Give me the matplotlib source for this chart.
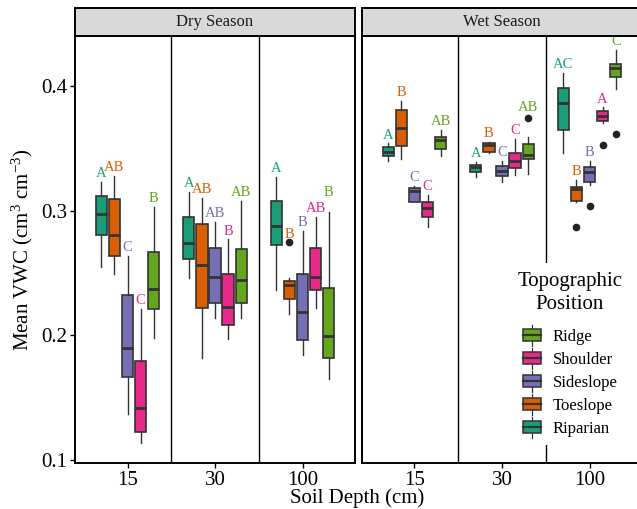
import matplotlib
matplotlib.use('Agg')
import matplotlib.pyplot as plt
from matplotlib.patches import Rectangle, Patch
from matplotlib.lines import Line2D
from matplotlib.legend_handler import HandlerBase

plt.rcParams['font.family'] = ['Liberation Serif', 'DejaVu Serif']
plt.rcParams['mathtext.fontset'] = 'custom'
plt.rcParams['mathtext.rm'] = 'Liberation Serif'
plt.rcParams['mathtext.it'] = 'Liberation Serif:italic'
plt.rcParams['mathtext.bf'] = 'Liberation Serif:bold'

# ---------------- data ----------------
seasons = ['Dry Season', 'Wet Season']
depths = ['15', '30', '100']
groups = ['Riparian', 'Toeslope', 'Sideslope', 'Shoulder', 'Ridge']
colors = ['#1B9E77', '#D95F02', '#7570B3', '#E7298A', '#66A61E']

# each row: [lower whisker, Q1, median, Q3, upper whisker] for Riparian..Ridge
dry_15 = [[0.2551, 0.2802, 0.2973, 0.3118, 0.3233],
          [0.2492, 0.2639, 0.2802, 0.3094, 0.3278],
          [0.1373, 0.1668, 0.1898, 0.2326, 0.2636],
          [0.1133, 0.1226, 0.1416, 0.1796, 0.2211],
          [0.1975, 0.2208, 0.2369, 0.2671, 0.3029]]
dry_30 = [[0.2457, 0.2612, 0.2738, 0.2952, 0.3150],
          [0.1820, 0.2216, 0.2561, 0.2893, 0.3104],
          [0.2141, 0.2259, 0.2470, 0.2703, 0.2912],
          [0.1973, 0.2082, 0.2230, 0.2489, 0.2770],
          [0.2141, 0.2256, 0.2446, 0.2690, 0.3078]]
dry_100 = [[0.2363, 0.2722, 0.2877, 0.3078, 0.3273],
           [0.2171, 0.2288, 0.2401, 0.2438, 0.2462],
           [0.1839, 0.1965, 0.2189, 0.2494, 0.2840],
           [0.2219, 0.2361, 0.2468, 0.2698, 0.2952],
           [0.1652, 0.1820, 0.1997, 0.2377, 0.2992]]
wet_15 = [[0.3401, 0.3439, 0.3474, 0.3508, 0.3540],
          [0.3417, 0.3519, 0.3661, 0.3808, 0.3883],
          [0.3072, 0.3072, 0.3160, 0.3182, 0.3198],
          [0.2872, 0.2946, 0.3019, 0.3072, 0.3126],
          [0.3439, 0.3492, 0.3567, 0.3594, 0.3647]]
wet_30 = [[0.3268, 0.3308, 0.3353, 0.3369, 0.3393],
          [0.3466, 0.3474, 0.3527, 0.3546, 0.3551],
          [0.3230, 0.3278, 0.3321, 0.3358, 0.3401],
          [0.3286, 0.3345, 0.3401, 0.3465, 0.3573],
          [0.3292, 0.3412, 0.3450, 0.3535, 0.3594]]
wet_100 = [[0.3465, 0.3647, 0.3861, 0.3987, 0.4108],
           [0.3072, 0.3080, 0.3171, 0.3193, 0.3246],
           [0.3206, 0.3233, 0.3313, 0.3348, 0.3401],
           [0.3701, 0.3722, 0.3762, 0.3803, 0.3829],
           [0.3974, 0.4070, 0.4148, 0.4177, 0.4289]]

# outliers per group (Riparian..Ridge)
dry_15_out = [[], [], [], [], []]
dry_30_out = [[], [], [], [], []]
dry_100_out = [[], [0.2746], [], [], []]
wet_15_out = [[], [], [], [], []]
wet_30_out = [[], [], [], [], [0.3744]]
wet_100_out = [[], [0.2872], [0.3040], [0.3524], [0.3618]]

# significance letters
dry_letters = [['A', 'AB', 'C', 'C', 'B'],
               ['A', 'AB', 'AB', 'B', 'AB'],
               ['A', 'B', 'B', 'AB', 'B']]
wet_letters = [['A', 'B', 'C', 'C', 'AB'],
               ['A', 'B', 'C', 'C', 'AB'],
               ['AC', 'B', 'B', 'A', 'C']]
# extra vertical nudge of a letter above its box (data units)
dry_nudge = [[0, 0, 0, 0, 0], [0, 0, 0, 0, 0], [0, 0, 0, 0, 0.009]]
wet_nudge = [[0, 0, 0, 0, 0], [0, 0, 0, 0, 0.002], [0, 0, 0, 0, 0]]

season_stats = [[dry_15, dry_30, dry_100], [wet_15, wet_30, wet_100]]
season_out = [[dry_15_out, dry_30_out, dry_100_out],
              [wet_15_out, wet_30_out, wet_100_out]]
season_letters = [dry_letters, wet_letters]
season_nudge = [dry_nudge, wet_nudge]

# ---------------- layout ----------------
W, H = 637, 509
fig = plt.figure(figsize=(W / 100, H / 100), dpi=100)
fig.patch.set_facecolor('white')


def fx(px):
    return px / W


def fy(py):
    return 1 - py / H


panel_lefts = [75, 362]
panel_w = 280
p_top, p_bot, s_top = 36, 463, 8
edge = '#333333'
dodge = 0.15
box_w = 0.13
ylim = (0.0976, 0.4401)


class BoxHandler(HandlerBase):
    def create_artists(self, legend, orig_handle, xdescent, ydescent,
                       width, height, fontsize, trans):
        bw = width
        bh = height * 1.05
        x0 = -xdescent
        y0 = -ydescent + (height - bh) / 2
        cx = x0 + bw / 2
        wl = Line2D([cx, cx], [y0 - 0.35 * bh, y0 + 1.35 * bh], color=edge,
                    lw=0.9, transform=trans)
        rect = Rectangle((x0, y0), bw, bh, facecolor=orig_handle.get_facecolor(),
                         edgecolor=edge, lw=1.1, transform=trans)
        med = Line2D([x0, x0 + bw], [y0 + bh / 2, y0 + bh / 2], color=edge,
                     lw=1.6, transform=trans)
        return [wl, rect, med]


axes = []
for si, season in enumerate(seasons):
    left = panel_lefts[si]
    ax = fig.add_axes([fx(left), fy(p_bot), panel_w / W, (p_bot - p_top) / H])
    axes.append(ax)
    ax.set_xlim(0.4, 3.6)
    ax.set_ylim(*ylim)
    for spine in ax.spines.values():
        spine.set_linewidth(1.4)
        spine.set_color('black')
    ax.axvline(1.5, color='black', lw=1.0, zorder=0.5)
    ax.axvline(2.5, color='black', lw=1.0, zorder=0.5)
    for di in range(len(depths)):
        stats = season_stats[si][di]
        outs = season_out[si][di]
        letters = season_letters[si][di]
        nudges = season_nudge[si][di]
        for gi in range(len(groups)):
            lo, q1, med, q3, hi = stats[gi]
            pos = (di + 1) + (gi - 2) * dodge
            st = dict(whislo=lo, q1=q1, med=med, q3=q3, whishi=hi,
                      fliers=outs[gi], label=groups[gi])
            ax.bxp([st], positions=[pos], widths=box_w, patch_artist=True,
                   showcaps=False, manage_ticks=False,
                   boxprops=dict(facecolor=colors[gi], edgecolor=edge, linewidth=1.2),
                   medianprops=dict(color=edge, linewidth=2.0),
                   whiskerprops=dict(color=edge, linewidth=1.0),
                   flierprops=dict(marker='o', markerfacecolor='#222222',
                                   markeredgecolor='#222222', markersize=4.5))
            top = max([hi] + list(outs[gi]))
            ax.text(pos, top + 0.0066 + nudges[gi], letters[gi], color=colors[gi],
                    ha='center', va='center', fontsize=10.5)
    ax.set_xticks([1, 2, 3])
    ax.set_xticklabels(depths)
    ax.tick_params(axis='both', direction='out', length=3.5, width=1.0,
                   labelsize=15, colors='black', pad=2)
    if si == 0:
        ax.set_yticks([0.1, 0.2, 0.3, 0.4])
        ax.set_yticklabels(['0.1', '0.2', '0.3', '0.4'])
    else:
        ax.set_yticks([])

    sax = fig.add_axes([fx(left), fy(p_top), panel_w / W, (p_top - s_top) / H])
    sax.set_facecolor('#D9D9D9')
    sax.set_xticks([])
    sax.set_yticks([])
    for spine in sax.spines.values():
        spine.set_linewidth(1.4)
        spine.set_color('black')
    sax.text(0.5, 0.5, season, transform=sax.transAxes, ha='center',
             va='center', fontsize=12, color='#1a1a1a')

fig.text(fx(22), fy(249.5), 'Mean VWC (cm$^3$ cm$^{-3}$)', rotation=90,
         ha='center', va='center', fontsize=15)
fig.text(fx(357), fy(498.5), 'Soil Depth (cm)', ha='center', va='center',
         fontsize=15)

handles = [Patch(facecolor=colors[gi]) for gi in reversed(range(len(groups)))]
labels = [groups[gi] for gi in reversed(range(len(groups)))]
leg = axes[1].legend(handles, labels, title='Topographic\nPosition',
                     loc='upper center', bbox_to_anchor=(fx(570), fy(255)),
                     bbox_transform=fig.transFigure, fontsize=12,
                     title_fontsize=15, frameon=True, facecolor='white',
                     edgecolor='none', framealpha=1, fancybox=False,
                     handlelength=1.08, handleheight=0.7, handletextpad=0.72,
                     labelspacing=0.42, borderpad=0.5,
                     handler_map={Patch: BoxHandler()})
leg.get_title().set_multialignment('center')
leg.get_title().set_linespacing(1.3)
leg._legend_box.sep = 11
leg.set_zorder(10)

fig.savefig('out.png', dpi=100)
